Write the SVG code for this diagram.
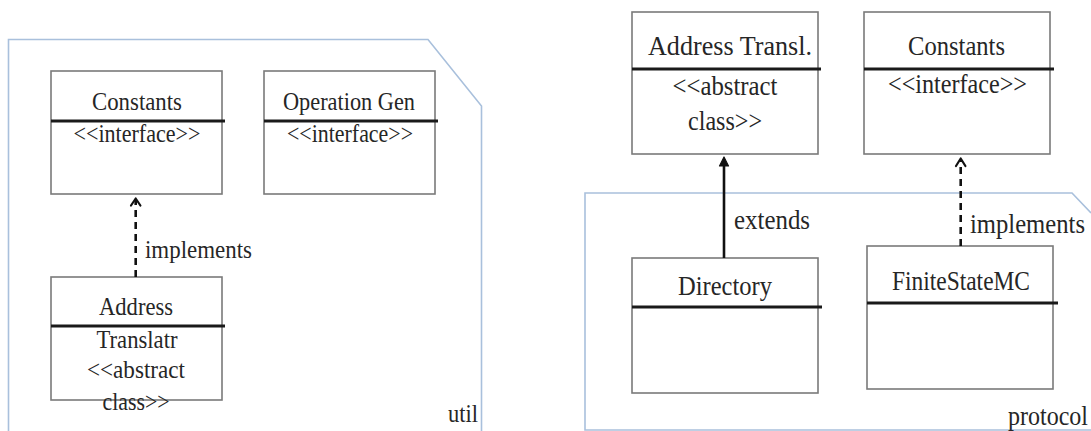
<svg xmlns="http://www.w3.org/2000/svg" width="1091" height="431" viewBox="0 0 1091 431">
  <style>
    .pkg { fill: none; stroke: #a9c0dc; stroke-width: 1.6; }
    .box { fill: #ffffff; stroke: #7a7a7a; stroke-width: 1.6; }
    .div { stroke: #1a1a1a; stroke-width: 3; }
    .t { font-family: "Liberation Serif", "DejaVu Serif", serif; fill: #262626; text-anchor: middle; }
    .s { font-size: 26px; }
    .l { font-size: 28px; }
    .lbl { font-family: "Liberation Serif", "DejaVu Serif", serif; fill: #262626; }
    .solid { stroke: #111; stroke-width: 2.6; fill: none; }
    .dash { stroke: #111; stroke-width: 2.6; fill: none; stroke-dasharray: 7 5; }
    .head { stroke: #111; stroke-width: 2.2; fill: none; stroke-linecap: round; stroke-linejoin: round; }
  </style>

  <!-- packages -->
  <g id="pkg-util">
    <path class="pkg" d="M8.5 431 V39.5 H428 L481.5 106 V431"/>
    <text class="lbl" x="448" y="422" font-size="26" textLength="30" lengthAdjust="spacingAndGlyphs">util</text>
  </g>
  <g id="pkg-protocol">
    <path class="pkg" d="M1091 213 L1072 193 H585 V430 H1091"/>
    <text class="lbl" x="1008" y="425" font-size="28" textLength="80" lengthAdjust="spacingAndGlyphs">protocol</text>
  </g>

  <!-- util package classes -->
  <g id="util-constants">
    <rect class="box" x="51" y="71" width="171" height="123"/>
    <line class="div" x1="51" y1="121" x2="225" y2="121"/>
    <text class="t s" x="137" y="110" textLength="90" lengthAdjust="spacingAndGlyphs">Constants</text>
    <text class="t s" x="137" y="142" textLength="127" lengthAdjust="spacingAndGlyphs">&lt;&lt;interface&gt;&gt;</text>
  </g>
  <g id="util-operation-gen">
    <rect class="box" x="264" y="71" width="171" height="123"/>
    <line class="div" x1="264" y1="121" x2="438" y2="121"/>
    <text class="t s" x="349" y="110" textLength="132" lengthAdjust="spacingAndGlyphs">Operation Gen</text>
    <text class="t s" x="350" y="142" textLength="126" lengthAdjust="spacingAndGlyphs">&lt;&lt;interface&gt;&gt;</text>
  </g>
  <g id="util-address-translatr">
    <rect class="box" x="51" y="277" width="171" height="123"/>
    <line class="div" x1="51" y1="326" x2="225" y2="326"/>
    <text class="t s" x="136" y="315" textLength="74" lengthAdjust="spacingAndGlyphs">Address</text>
    <text class="t s" x="137" y="348" textLength="81" lengthAdjust="spacingAndGlyphs">Translatr</text>
    <text class="t s" x="136" y="378" textLength="98" lengthAdjust="spacingAndGlyphs">&lt;&lt;abstract</text>
    <text class="t s" x="136" y="410" textLength="67" lengthAdjust="spacingAndGlyphs">class&gt;&gt;</text>
  </g>

  <!-- protocol side classes -->
  <g id="address-transl">
    <rect class="box" x="632" y="12" width="186" height="142"/>
    <line class="div" x1="632" y1="69" x2="821" y2="69"/>
    <text class="t l" x="730" y="55" textLength="164" lengthAdjust="spacingAndGlyphs">Address Transl.</text>
    <text class="t l" x="725" y="95" textLength="105" lengthAdjust="spacingAndGlyphs">&lt;&lt;abstract</text>
    <text class="t l" x="725" y="130" textLength="74" lengthAdjust="spacingAndGlyphs">class&gt;&gt;</text>
  </g>
  <g id="constants">
    <rect class="box" x="864" y="12" width="186" height="142"/>
    <line class="div" x1="864" y1="69" x2="1054" y2="69"/>
    <text class="t l" x="956.5" y="55" textLength="97" lengthAdjust="spacingAndGlyphs">Constants</text>
    <text class="t l" x="957.5" y="93" textLength="139" lengthAdjust="spacingAndGlyphs">&lt;&lt;interface&gt;&gt;</text>
  </g>
  <g id="directory">
    <rect class="box" x="632" y="258" width="186" height="135"/>
    <line class="div" x1="632" y1="307" x2="822" y2="307"/>
    <text class="t l" x="725" y="295" textLength="94" lengthAdjust="spacingAndGlyphs">Directory</text>
  </g>
  <g id="finite-state-mc">
    <rect class="box" x="867" y="246" width="186" height="143"/>
    <line class="div" x1="867" y1="303" x2="1058" y2="303"/>
    <text class="t l" x="961" y="290" textLength="138" lengthAdjust="spacingAndGlyphs">FiniteStateMC</text>
  </g>

  <!-- connectors -->
  <g id="connectors">
    <line class="dash" x1="135.7" y1="277" x2="135.7" y2="200"/>
    <path class="head" d="M131 205.5 L135.7 198.5 L140.4 205.5"/>
    <text class="lbl" x="145" y="258" font-size="26" textLength="107" lengthAdjust="spacingAndGlyphs">implements</text>

    <line class="solid" x1="724" y1="258" x2="724" y2="160"/>
    <path d="M719.5 166 L724 157 L728.5 166 Z" fill="#111" stroke="#111" stroke-width="1.2" stroke-linejoin="round"/>
    <text class="lbl" x="734" y="229" font-size="28" textLength="76" lengthAdjust="spacingAndGlyphs">extends</text>

    <line class="dash" x1="960.7" y1="246" x2="960.7" y2="160"/>
    <path class="head" d="M956 166 L960.7 158.5 L965.4 166"/>
    <text class="lbl" x="970" y="233" font-size="28" textLength="115" lengthAdjust="spacingAndGlyphs">implements</text>
  </g>
</svg>
